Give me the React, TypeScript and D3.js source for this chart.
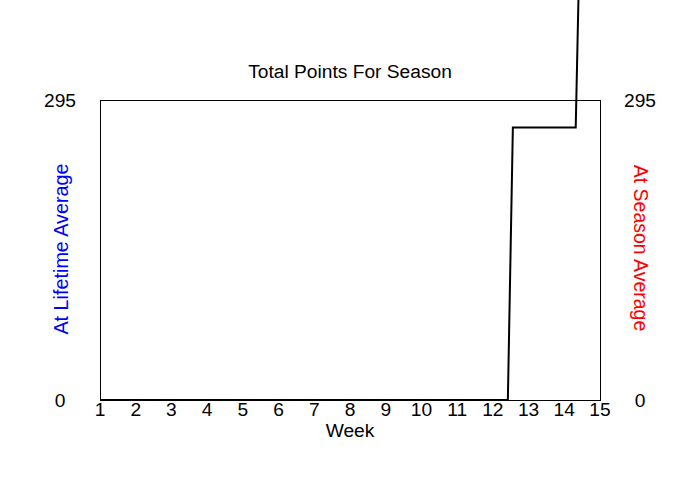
import React from 'react';
import * as d3 from 'd3';

// running total of points, sampled at fractional week positions
const weeks = [1, 12.42, 12.56, 14.32, 14.4];
const totalPoints = [0, 0, 268, 268, 400];
const weekTicks = d3.range(1, 16);
const yTickLabels = ['0', '295'];

const title = 'Total Points For Season';
const xTitle = 'Week';
const leftTitle = 'At Lifetime Average';
const rightTitle = 'At Season Average';

const width = 700;
const height = 500;
const plot = { left: 100, right: 600, top: 100, bottom: 400 };
const font = 'Arial, "Liberation Sans", sans-serif';
const fontSize = 19.2;

export default function App() {
    const x = d3.scaleLinear([1, 15], [plot.left, plot.right]);
    const y = d3.scaleLinear([0, 295], [plot.bottom, plot.top]);

    const line = d3.line<number>()
        .x((_d, i) => x(weeks[i]))
        .y(d => y(d));

    return (
        <svg
            width={width}
            height={height}
            style={{ position: 'absolute', left: 0, top: 0, background: '#fff' }}
            fontFamily={font}
            fontSize={fontSize}
        >
            <rect
                x={plot.left}
                y={plot.top}
                width={plot.right - plot.left}
                height={plot.bottom - plot.top}
                fill="none"
                stroke="#000"
                strokeWidth={1}
                shapeRendering="crispEdges"
            />
            <text x={350} y={78} textAnchor="middle">{title}</text>

            {yTickLabels.map(t => (
                <g key={t}>
                    <text x={60} y={y(+t) + 6.5} textAnchor="middle">{t}</text>
                    <text x={640} y={y(+t) + 6.5} textAnchor="middle">{t}</text>
                </g>
            ))}

            {weekTicks.map(w => (
                <text key={w} x={x(w)} y={416} textAnchor="middle">{w}</text>
            ))}
            <text x={350} y={437} textAnchor="middle">{xTitle}</text>

            <text
                transform="translate(68,249) rotate(-90)"
                textAnchor="middle"
                fill="#0000ff"
                fontSize={19.8}
            >{leftTitle}</text>
            <text
                transform="translate(634,248) rotate(90)"
                textAnchor="middle"
                fill="#ff0000"
                fontSize={19.5}
            >{rightTitle}</text>

            <path d={line(totalPoints) ?? ''} fill="none" stroke="#000" strokeWidth={2} />
        </svg>
    );
}
